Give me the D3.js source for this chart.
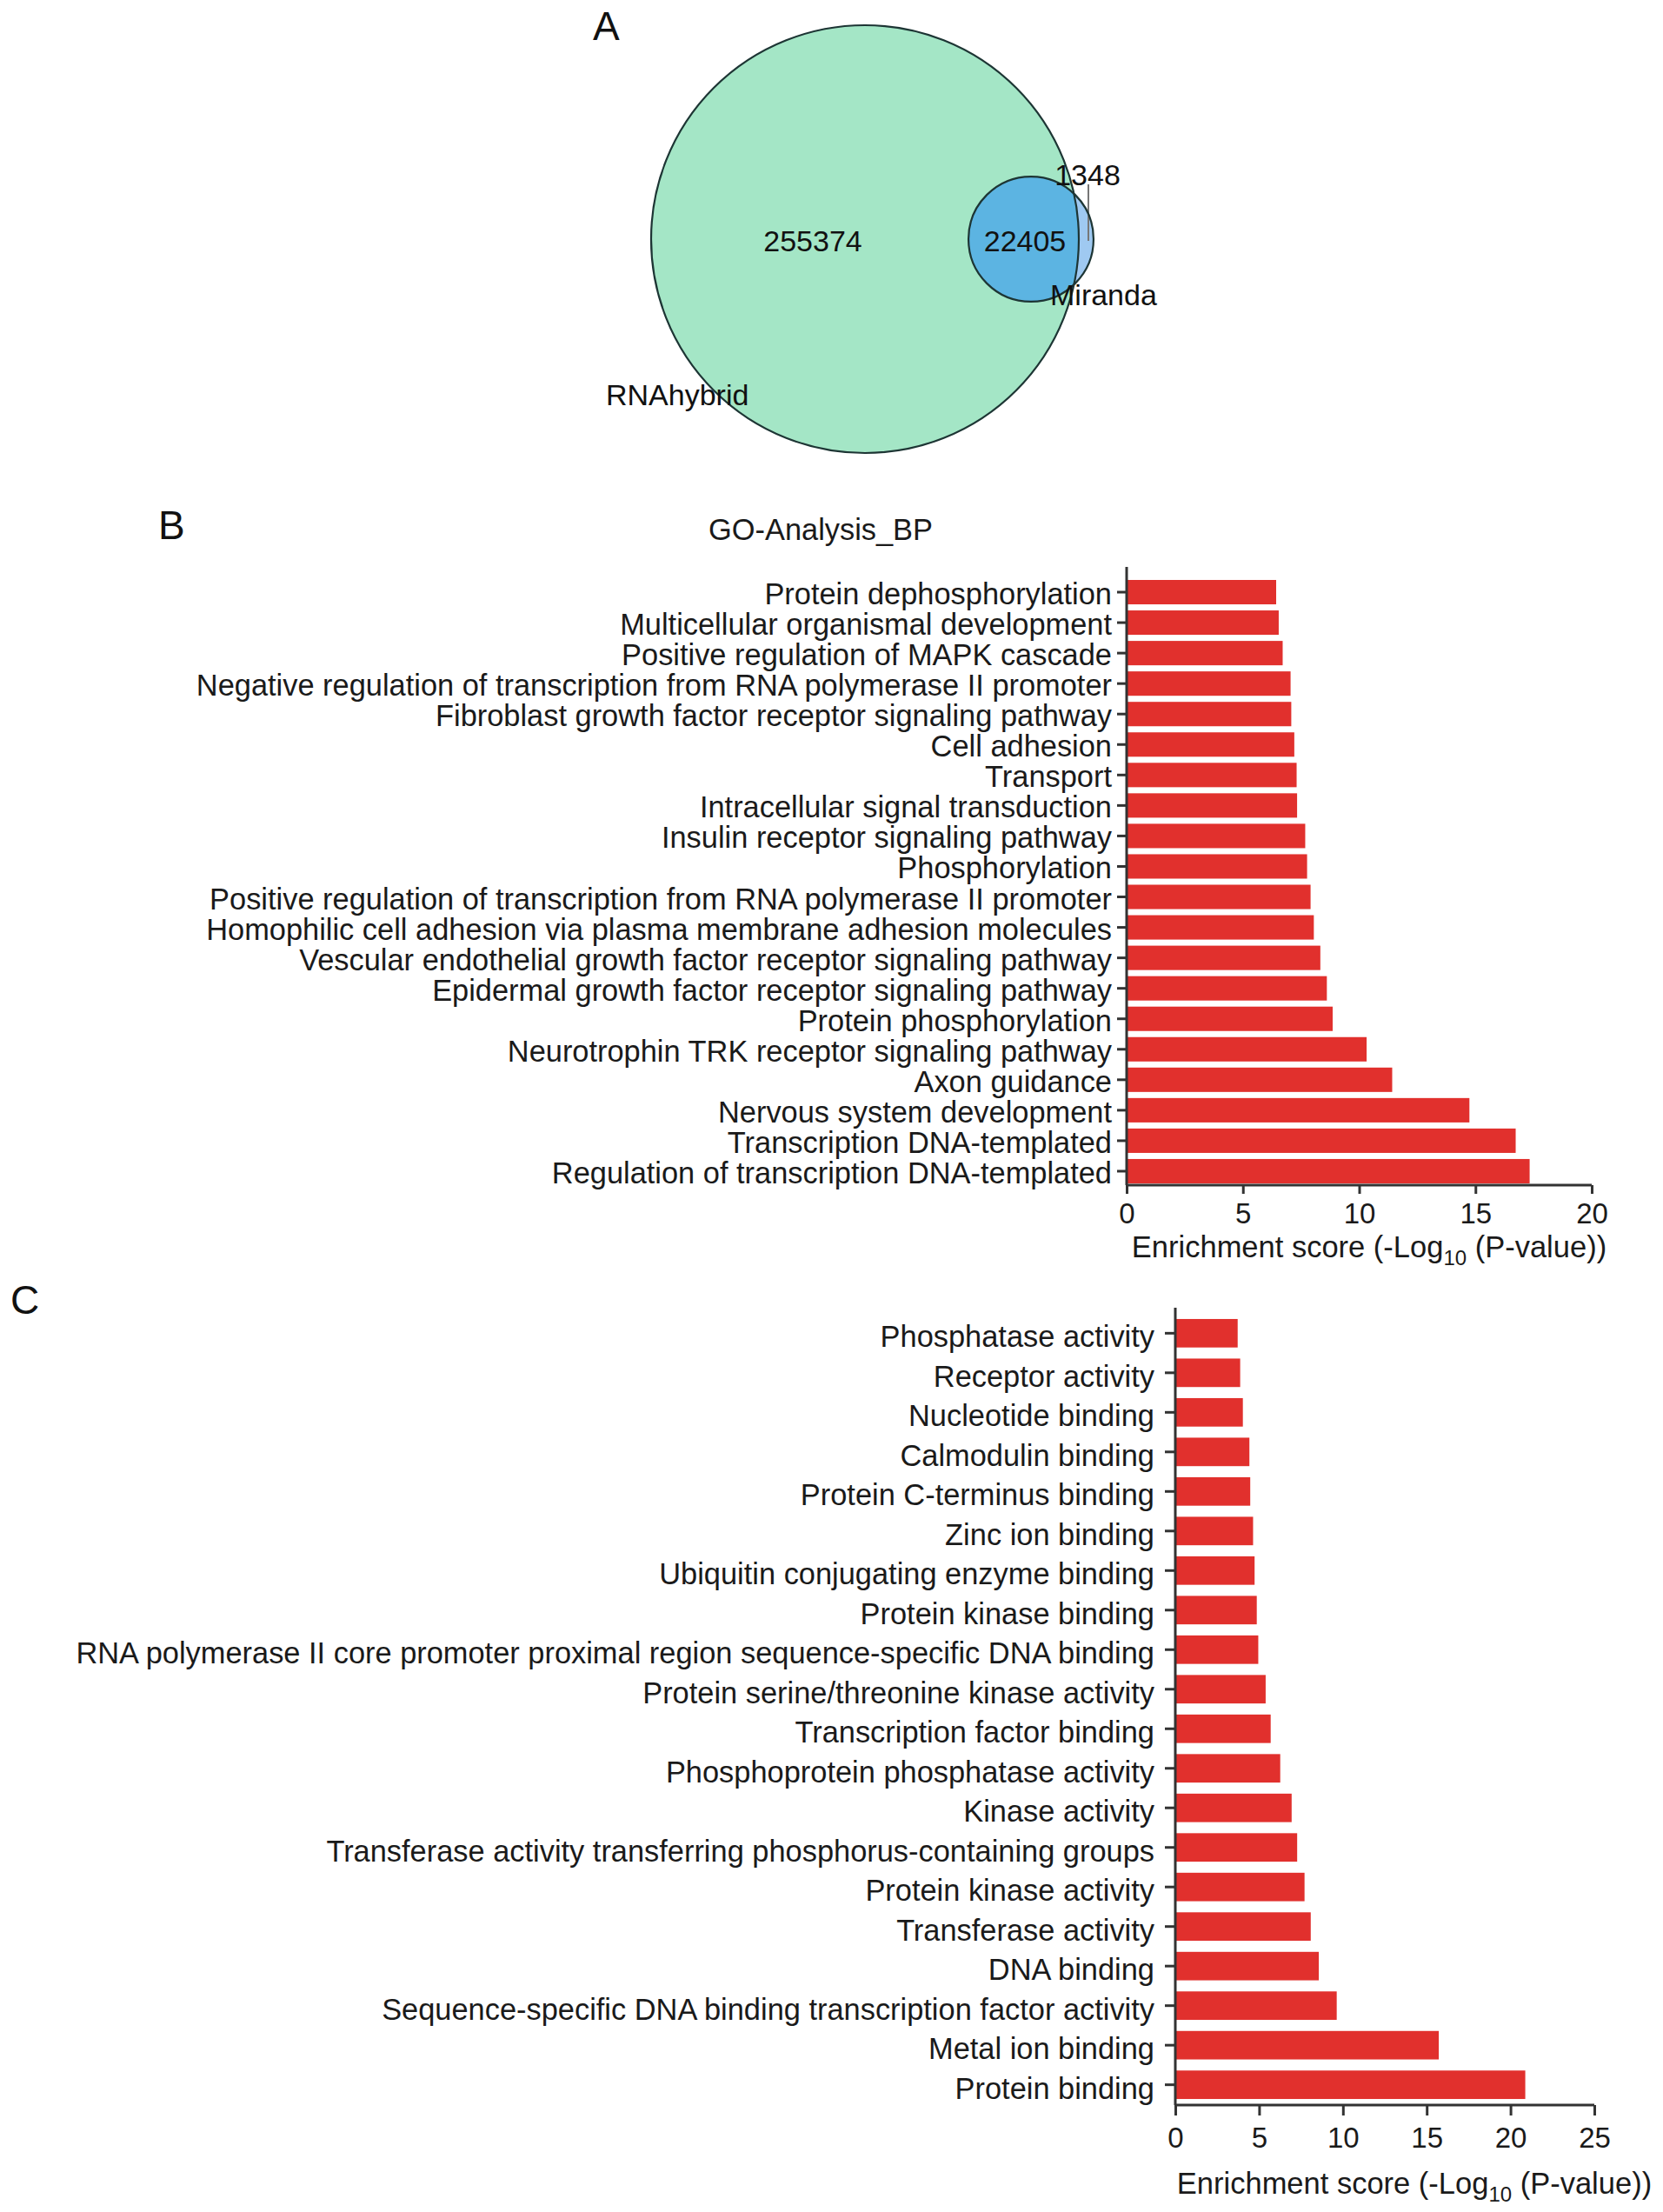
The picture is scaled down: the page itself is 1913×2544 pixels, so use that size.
<!DOCTYPE html>
<html>
<head>
<meta charset="utf-8">
<script src="https://cdn.jsdelivr.net/npm/d3@7"></script>
<style>
  body { margin: 0; background: #fff; }
  svg { display: block; font-family: "Liberation Sans", Arial, sans-serif; }
  .axis path, .axis line { stroke: #333; stroke-width: 3; }
  .axis text { fill: #1a1a1a; }
</style>
</head>
<body>
<svg width="1913" height="2544"></svg>
<script>
// Venn counts (A)
var vennSets = ['RNAhybrid', 'Miranda']
var vennRegions = [255374, 22405, 1348]   // RNAhybrid only, both, Miranda only

// GO biological process (B), top to bottom
var bpTerms = [
  'Protein dephosphorylation',
  'Multicellular organismal development',
  'Positive regulation of MAPK cascade',
  'Negative regulation of transcription from RNA polymerase II promoter',
  'Fibroblast growth factor receptor signaling pathway',
  'Cell adhesion',
  'Transport',
  'Intracellular signal transduction',
  'Insulin receptor signaling pathway',
  'Phosphorylation',
  'Positive regulation of transcription from RNA polymerase II promoter',
  'Homophilic cell adhesion via plasma membrane adhesion molecules',
  'Vescular endothelial growth factor receptor signaling pathway',
  'Epidermal growth factor receptor signaling pathway',
  'Protein phosphorylation',
  'Neurotrophin TRK receptor signaling pathway',
  'Axon guidance',
  'Nervous system development',
  'Transcription DNA-templated',
  'Regulation of transcription DNA-templated'
]
var bpScores = [6.43, 6.54, 6.71, 7.05, 7.08, 7.21, 7.31, 7.33, 7.68, 7.76,
                7.91, 8.05, 8.33, 8.61, 8.86, 10.32, 11.42, 14.74, 16.73, 17.33]
var bpTicks = [0, 5, 10, 15, 20]

// GO molecular function (C), top to bottom
var mfTerms = [
  'Phosphatase activity',
  'Receptor activity',
  'Nucleotide binding',
  'Calmodulin binding',
  'Protein C-terminus binding',
  'Zinc ion binding',
  'Ubiquitin conjugating enzyme binding',
  'Protein kinase binding',
  'RNA polymerase II core promoter proximal region sequence-specific DNA binding',
  'Protein serine/threonine kinase activity',
  'Transcription factor binding',
  'Phosphoprotein phosphatase activity',
  'Kinase activity',
  'Transferase activity transferring phosphorus-containing groups',
  'Protein kinase activity',
  'Transferase activity',
  'DNA binding',
  'Sequence-specific DNA binding transcription factor activity',
  'Metal ion binding',
  'Protein binding'
]
var mfScores = [3.72, 3.87, 4.03, 4.42, 4.47, 4.64, 4.73, 4.86, 4.95, 5.39,
                5.69, 6.26, 6.94, 7.27, 7.71, 8.08, 8.56, 9.63, 15.72, 20.88]
var mfTicks = [0, 5, 10, 15, 20, 25]

var svg = d3.select('svg')

function panelLetter(t, x, y) {
  svg.append('text').attr('x', x).attr('y', y).attr('font-size', 46)
    .attr('fill', '#111').text(t)
}

// ---- A: venn ----
panelLetter('A', 682, 46)

var totalR = vennRegions[0] + vennRegions[1]
var totalM = vennRegions[1] + vennRegions[2]
var rad = d3.scaleSqrt().domain([0, totalR]).range([0, 246])
var cR = {x: 995, y: 275, r: rad(totalR)}
var cM = {x: 1186, y: 275, r: rad(totalM)}

var defs = svg.append('defs')
defs.append('clipPath').attr('id', 'clipR')
  .append('circle').attr('cx', cR.x).attr('cy', cR.y).attr('r', cR.r)

svg.append('circle').attr('cx', cR.x).attr('cy', cR.y).attr('r', cR.r)
  .attr('fill', '#a4e6c6')
svg.append('circle').attr('cx', cM.x).attr('cy', cM.y).attr('r', cM.r)
  .attr('fill', '#9fc9f1')
svg.append('circle').attr('cx', cM.x).attr('cy', cM.y).attr('r', cM.r)
  .attr('fill', '#5cb4e2').attr('clip-path', 'url(#clipR)')
svg.append('line').attr('x1', 1252).attr('x2', 1252).attr('y1', 212).attr('y2', 277)
  .attr('stroke', '#777').attr('stroke-width', 2)
;[cR, cM].forEach(function (c) {
  svg.append('circle').attr('cx', c.x).attr('cy', c.y).attr('r', c.r)
    .attr('fill', 'none').attr('stroke', '#1d3534').attr('stroke-width', 2.2)
})

var vennText = [
  {t: d3.format('d')(vennRegions[0]), x: 935, y: 277, a: 'middle'},
  {t: d3.format('d')(vennRegions[1]), x: 1179, y: 277, a: 'middle'},
  {t: d3.format('d')(vennRegions[2]), x: 1251, y: 201, a: 'middle'},
  {t: vennSets[1], x: 1208, y: 339, a: 'start'},
  {t: vennSets[0], x: 697, y: 454, a: 'start'}
]
svg.selectAll('.vt').data(vennText).enter().append('text')
  .attr('class', 'vt')
  .attr('x', function (d) { return d.x })
  .attr('y', function (d) { return d.y })
  .attr('dy', '0.35em')
  .attr('text-anchor', function (d) { return d.a })
  .attr('font-size', 34).attr('fill', '#111')
  .text(function (d) { return d.t })

// ---- bar panels ----
function barPanel(opt) {
  var x = d3.scaleLinear().domain([0, opt.max]).range([opt.x0, opt.x1])
  var y = d3.scaleBand().domain(opt.terms).range([opt.yTop, opt.yBot])
    .paddingInner(opt.padIn).paddingOuter(opt.padIn / 2)

  var g = svg.append('g')

  g.selectAll('rect').data(opt.terms).enter().append('rect')
    .attr('x', x(0))
    .attr('y', function (d) { return y(d) })
    .attr('height', y.bandwidth())
    .attr('width', function (d, i) { return x(opt.scores[i]) - x(0) })
    .attr('fill', '#e1302d')

  var ya = g.append('g').attr('class', 'axis')
    .attr('transform', 'translate(' + x(0) + ',0)')
    .call(d3.axisLeft(y).tickSize(opt.ytick).tickPadding(opt.ypad).tickSizeOuter(0))
  ya.select('.domain').attr('d', 'M0,' + opt.axisTop + 'V' + opt.axisY)
  ya.selectAll('text').attr('font-size', 34.4).attr('font-family', null)
    .attr('transform', 'translate(0,' + opt.labelShift + ')')

  var xa = g.append('g').attr('class', 'axis')
    .attr('transform', 'translate(0,' + opt.axisY + ')')
    .call(d3.axisBottom(x).tickValues(opt.ticks).tickSize(opt.xtick)
      .tickPadding(opt.xpad).tickSizeOuter(0))
  xa.select('.domain').attr('d', 'M' + x(0) + ',0H' + x(opt.max))
  xa.selectAll('text').attr('font-size', 33).attr('font-family', null)

  var title = g.append('text').attr('x', opt.titleX).attr('y', opt.titleY)
    .attr('text-anchor', 'middle').attr('font-size', 34.5).attr('fill', '#1a1a1a')
  title.append('tspan').text('Enrichment score (-Log')
  title.append('tspan').attr('font-size', 24).attr('dy', 9).text('10')
  title.append('tspan').attr('dy', -9).text(' (P-value))')
}

panelLetter('B', 182, 620)
svg.append('text').attr('x', 944).attr('y', 621).attr('text-anchor', 'middle')
  .attr('font-size', 34.4).attr('fill', '#1a1a1a').text('GO-Analysis_BP')

barPanel({
  terms: bpTerms, scores: bpScores, ticks: bpTicks, max: 20,
  x0: 1296, x1: 1831, yTop: 663.5, yBot: 1364.5, padIn: 0.2,
  axisTop: 652, axisY: 1363, ytick: 11, ypad: 6, xtick: 10, xpad: 11,
  labelShift: 3, titleX: 1575, titleY: 1446
})

panelLetter('C', 12, 1511)

barPanel({
  terms: mfTerms, scores: mfScores, ticks: mfTicks, max: 25,
  x0: 1352, x1: 1834, yTop: 1510.6, yBot: 2420.4, padIn: 0.28,
  axisTop: 1504, axisY: 2421, ytick: 12, ypad: 12, xtick: 12, xpad: 14,
  labelShift: 5, titleX: 1627, titleY: 2523
})
</script>
</body>
</html>
